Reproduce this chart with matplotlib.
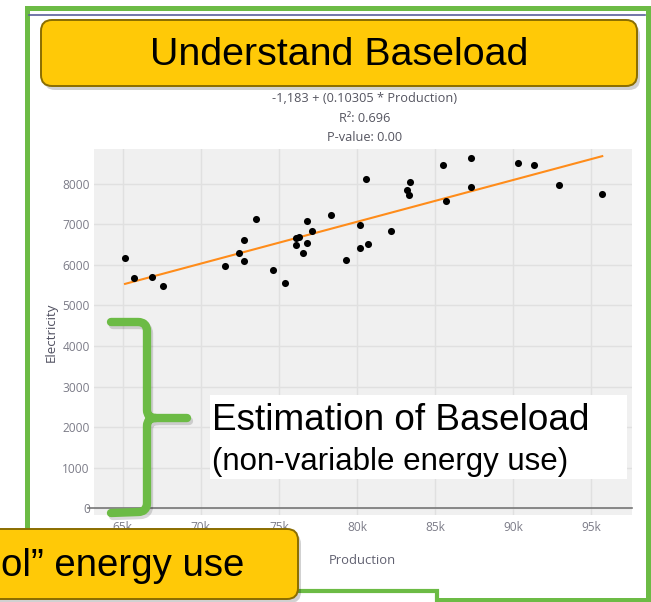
import matplotlib
matplotlib.use('Agg')
import matplotlib.pyplot as plt
import numpy as np
from matplotlib.patches import FancyBboxPatch, Rectangle, PathPatch
from matplotlib.path import Path
from matplotlib.transforms import Affine2D

# data
production = [65150, 65750, 66850, 67550, 71550, 72450, 72750, 72750, 73550, 74650,
              75400, 76100, 76100, 76300, 76550, 76800, 76800, 77150, 78350, 79300,
              80200, 80200, 80600, 80700, 82200, 83200, 83300, 83400, 85500, 85700,
              87300, 87300, 90300, 91300, 92900, 95700]
electricity = [6160, 5670, 5710, 5470, 5970, 6300, 6610, 6100, 7130, 5880,
               5560, 6490, 6670, 6680, 6290, 7070, 6550, 6840, 7220, 6130,
               6980, 6410, 8120, 6510, 6840, 7850, 7710, 8030, 8450, 7580,
               8630, 7920, 8520, 8450, 7970, 7750]
intercept = -1183
slope = 0.10305
r2 = 0.696
pvalue = 0.00
x_ticks = [65000, 70000, 75000, 80000, 85000, 90000, 95000]
x_labels = ['65k', '70k', '75k', '80k', '85k', '90k', '95k']
y_ticks = [0, 1000, 2000, 3000, 4000, 5000, 6000, 7000, 8000]

W, H = 651, 602
fig = plt.figure(figsize=(W / 100, H / 100), dpi=100)
fig.patch.set_facecolor('white')

GREEN = '#6cbb45'
YELLOW = '#ffc907'
EDGE = '#8a6d00'
chart_font = 'Open Sans'

# pixel coords, origin top-left
pix = Affine2D().scale(1 / W, -1 / H).translate(0, 1) + fig.transFigure

ax = fig.add_axes([94 / W, 1 - 515 / H, (632 - 94) / W, (515 - 149) / H])
ax.set_facecolor('#f0f0f0')
for s in ax.spines.values():
    s.set_visible(False)
ax.set_xlim(63163, 97605)
ax.set_ylim(-165, 8855)
ax.set_xticks(x_ticks)
ax.set_xticklabels(x_labels)
ax.set_yticks(y_ticks)
ax.set_yticklabels([str(v) for v in y_ticks])
ax.tick_params(length=0, labelsize=8.6, labelcolor='#7c7c88', pad=3)
ax.tick_params(axis='x', pad=4)
for lab in ax.get_xticklabels() + ax.get_yticklabels():
    lab.set_family(chart_font)
ax.grid(True, color='#e0e0e0', lw=1)
ax.set_axisbelow(True)
ax.plot([-0.012, 1], [0, 0], color='#777777', lw=1.2,
        transform=ax.get_yaxis_transform(), clip_on=False, zorder=2)

ax.scatter(production, electricity, s=26, color='black', zorder=4, lw=0)
xl = np.array([min(production), max(production)])
ax.plot(xl, intercept + slope * xl, color='#ff8c1a', lw=1.5, zorder=3)

fig.text(362, 560, 'Production', transform=pix, ha='center', va='center',
         family=chart_font, fontsize=9.4, color='#606070')
fig.text(51, 332, 'Electricity', transform=pix, ha='center', va='center', rotation=90,
         family=chart_font, fontsize=9.6, color='#505060')

title = ['{:,} + ({} * Production)'.format(intercept, slope),
         'R\u00b2: {:.3f}'.format(r2),
         'P-value: {:.2f}'.format(pvalue)]
for i, t in enumerate(title):
    fig.text(364.5, 98.7 + i * 19.5, t, transform=pix, ha='center', va='center',
             family=chart_font, fontsize=9.2, color='#555560')

# outer green frame and top rule
fig.add_artist(Rectangle((26.5, 7.5), 621.5, 592.5, transform=pix, fill=False,
                         ec=GREEN, lw=3.6, zorder=5))
fig.add_artist(plt.Line2D([29, 645], [15, 15], transform=pix, color='#5a5f9a', lw=1.2, zorder=5))

# second slide frame at the bottom
fig.add_artist(Rectangle((-20, 591), 457, 40, transform=pix, fc='white',
                         ec=GREEN, lw=3.0, zorder=6))

def yellow_box(x0, y0, w, h, z):
    fig.add_artist(FancyBboxPatch((x0 + 3, y0 + 4), w, h, boxstyle='round,pad=0,rounding_size=11',
                                  transform=pix, fc='#000000', ec='none', alpha=0.18, zorder=z))
    fig.add_artist(FancyBboxPatch((x0, y0), w, h, boxstyle='round,pad=0,rounding_size=11',
                                  transform=pix, fc=YELLOW, ec=EDGE, lw=1.4, zorder=z + 0.1))

yellow_box(41, 20, 596, 66, 7)
fig.text(339, 55, 'Understand Baseload', transform=pix, ha='center', va='center',
         family='Liberation Sans', fontsize=28.4, color='black', zorder=8)

yellow_box(-30, 529, 328, 70, 7)
fig.text(1, 566, 'ol\u201d energy use', transform=pix, ha='left', va='center',
         family='Liberation Sans', fontsize=27.6, color='black', zorder=8)

# green brace
verts = [(111, 322), (138, 322), (147, 322), (147, 331), (147, 410), (147, 418), (156, 418),
         (187, 418),
         (156, 418), (147, 418), (147, 426), (147, 503), (147, 512), (138, 512), (111, 513)]
codes = [Path.MOVETO, Path.LINETO, Path.CURVE3, Path.CURVE3, Path.LINETO, Path.CURVE3, Path.CURVE3,
         Path.LINETO,
         Path.MOVETO, Path.CURVE3, Path.CURVE3, Path.LINETO, Path.CURVE3, Path.CURVE3, Path.LINETO]
brace = Path(verts, codes)
shadow = Affine2D().translate(2, 3) + pix
fig.add_artist(PathPatch(brace, transform=shadow, fill=False, ec='#000000', alpha=0.15,
                         lw=6, capstyle='round', joinstyle='round', zorder=5))
fig.add_artist(PathPatch(brace, transform=pix, fill=False, ec=GREEN,
                         lw=6, capstyle='round', joinstyle='round', zorder=5.1))

# baseload label
fig.add_artist(Rectangle((210, 395), 417, 84, transform=pix, fc='white', ec='none', zorder=5))
fig.text(212, 421, 'Estimation of Baseload', transform=pix, ha='left', va='center',
         family='Liberation Sans', fontsize=26.6, color='black', zorder=6)
fig.text(212, 462, '(non-variable energy use)', transform=pix, ha='left', va='center',
         family='Liberation Sans', fontsize=22.5, color='black', zorder=6)

fig.savefig('out.png', dpi=100)
